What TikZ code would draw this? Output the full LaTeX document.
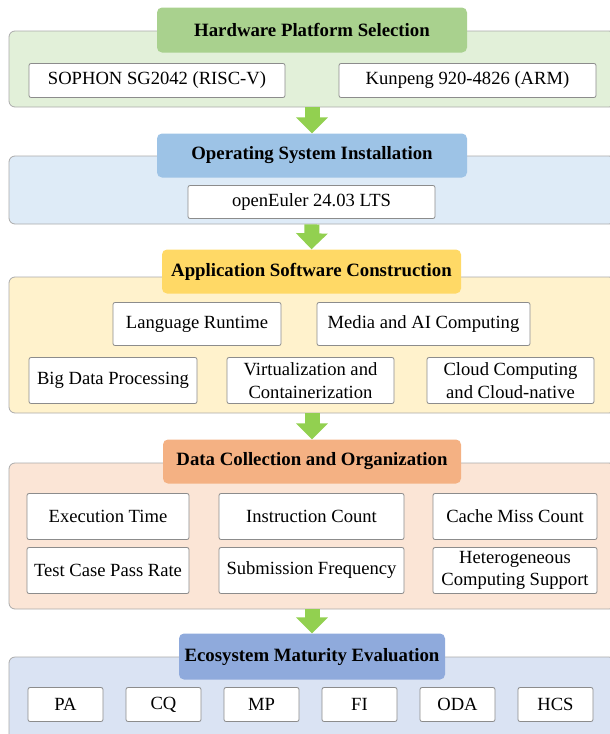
\documentclass[tikz,border=0pt]{standalone}
\usepackage{fontspec}
\setmainfont{Liberation Serif}
\usetikzlibrary{arrows.meta}
\definecolor{hwtitle}{HTML}{A9D18E}
\definecolor{hwpanel}{HTML}{E2F0D9}
\definecolor{ostitle}{HTML}{9DC3E6}
\definecolor{ospanel}{HTML}{DEEBF7}
\definecolor{aptitle}{HTML}{FFD966}
\definecolor{appanel}{HTML}{FFF2CC}
\definecolor{dctitle}{HTML}{F4B183}
\definecolor{dcpanel}{HTML}{FBE5D6}
\definecolor{evtitle}{HTML}{8FAADC}
\definecolor{evpanel}{HTML}{DAE3F3}
\definecolor{flowgreen}{HTML}{92D050}
\definecolor{panelgray}{HTML}{ABABAB}
\definecolor{itemgray}{HTML}{8C8C8C}
\tikzset{
  panel/.style={draw=panelgray, line width=0.8pt, rounded corners=6pt, inner sep=0pt},
  title/.style={rounded corners=5pt, inner sep=0pt, font=\fontsize{18.8}{22}\selectfont\bfseries},
  item/.style={draw=itemgray, fill=white, line width=0.8pt, rounded corners=2pt, inner sep=0pt,
    align=center, font=\fontsize{18.6}{22.5}\selectfont},
  flow/.style={draw=flowgreen, line width=15pt, -{Triangle[width=31pt,length=16pt]}},
}
\begin{document}
\begin{tikzpicture}[x=1pt,y=-1pt]
\useasboundingbox (0,0) rectangle (610,734);
\clip (0,0) rectangle (610,734);

% hardware platform
\node[panel, fill=hwpanel, minimum width=606, minimum height=76] (p1) at (312,69) {};
\node[title, fill=hwtitle, minimum width=310, minimum height=45] (t1) at (312,30) {Hardware Platform Selection};
\node[item, minimum width=256, minimum height=34] (sophon) at (157,80.5) {SOPHON SG2042 (RISC-V)};
\node[item, minimum width=257, minimum height=34] (kunpeng) at (467.5,80.5) {Kunpeng 920-4826 (ARM)};

% operating system
\node[panel, fill=ospanel, minimum width=606, minimum height=68] (p2) at (312,190) {};
\node[title, fill=ostitle, minimum width=310, minimum height=44] (t2) at (312,155.5) {Operating System Installation};
\node[item, minimum width=247, minimum height=33] (euler) at (311.5,202) {openEuler 24.03 LTS};

% application software
\node[panel, fill=appanel, minimum width=606, minimum height=136] (p3) at (312,345) {};
\node[title, fill=aptitle, minimum width=299, minimum height=44] (t3) at (311.5,271.5) {Application Software Construction};
\node[item, minimum width=168, minimum height=43] (lang) at (197,324) {Language Runtime};
\node[item, minimum width=213, minimum height=43] (media) at (423.5,324) {Media and AI Computing};
\node[item, minimum width=168, minimum height=46] (bigdata) at (113,380.5) {Big Data Processing};
\node[item, minimum width=167, minimum height=46] (virt) at (310.5,380.5) {Virtualization and\\Containerization};
\node[item, minimum width=167, minimum height=46] (cloud) at (510.5,380.5) {Cloud Computing\\and Cloud-native};

% data collection
\node[panel, fill=dcpanel, minimum width=606, minimum height=146] (p4) at (312,536) {};
\node[title, fill=dctitle, minimum width=298, minimum height=44] (t4) at (312,461.5) {Data Collection and Organization};
\node[item, minimum width=162, minimum height=46] (exec) at (108,516.5) {Execution Time};
\node[item, minimum width=185, minimum height=46] (instr) at (311.5,516.5) {Instruction Count};
\node[item, minimum width=164, minimum height=46] (cache) at (515,516.5) {Cache Miss Count};
\node[item, minimum width=162, minimum height=46] (pass) at (108,570.5) {Test Case Pass Rate};
\node[item, minimum width=185, minimum height=46] (submit) at (311.5,570.5) {Submission Frequency};
\node[item, minimum width=164, minimum height=46] (hetero) at (515,570.5) {Heterogeneous\\Computing Support};

% ecosystem evaluation
\node[panel, fill=evpanel, minimum width=606, minimum height=103] (p5) at (312,708.5) {};
\node[title, fill=evtitle, minimum width=266, minimum height=46] (t5) at (312,656.5) {Ecosystem Maturity Evaluation};
\foreach \name/\txt [count=\i from 0] in {pa/PA,cq/CQ,mp/MP,fi/FI,oda/ODA,hcs/HCS}
  \node[item, minimum width=75, minimum height=34] (\name) at (65.5+98*\i,704.5) {\txt};

% flow arrows
\draw[flow] (p1.south) -- (t2.north);
\draw[flow] (p2.south) -- (t3.north);
\draw[flow] (p3.south) -- (t4.north);
\draw[flow] (p4.south) -- (t5.north);
\end{tikzpicture}
\end{document}
